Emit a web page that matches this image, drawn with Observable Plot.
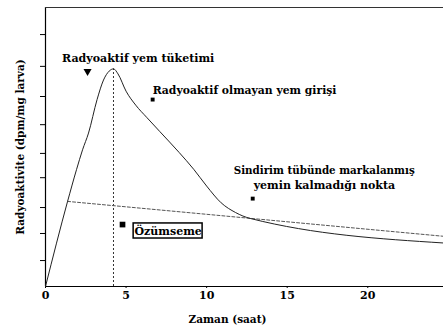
<!DOCTYPE html>
<html>
<head>
<meta charset="utf-8">
<script src="https://cdn.jsdelivr.net/npm/d3@7"></script>
<script src="https://cdn.jsdelivr.net/npm/@observablehq/plot@0.6"></script>
<style>
  html, body { margin: 0; padding: 0; background: #fff; }
</style>
</head>
<body>
<div id="chart"></div>
<script>
// Solid curve: total radioactivity (time in hours, arbitrary units)
const curveX = [0, 1.37, 1.93, 2.3, 2.67, 3.2, 3.6, 3.95, 4.22, 4.5, 5.0, 5.6, 6.3, 7.1, 8.3, 9.2, 10.0, 10.9, 11.8, 12.7, 24.7];
const curveY = [0, 3.05, 4.2, 4.9, 5.5, 6.7, 7.4, 7.72, 7.8, 7.62, 7.0, 6.5, 6.05, 5.55, 4.8, 4.2, 3.6, 3.0, 2.65, 2.44, 1.56];
// Dashed line: assimilation
const dashX = [1.37, 24.7];
const dashY = [3.05, 1.8];
// Peak time (vertical dotted line)
const peakX = 4.22;
const peakY = 7.8;
// Axis ticks
const xTicks = [0, 5, 10, 15, 20];
const yTicks = [0.93, 1.9, 2.83, 3.9, 4.77, 5.8, 6.81, 7.89, 9.03];
// Annotations
const labelTexts = ["Radyoaktif yem tüketimi", "Radyoaktif olmayan yem girişi", "Sindirim tübünde markalanmış", "yemin kalmadığı nokta"];
const labelX = [5.75, 6.65, 11.68, 12.92];
const labelY = [8.17, 7.03, 4.16, 3.62];
const labelAnchor = ["middle", "start", "start", "start"];
const labelSize = [11, 10.8, 10.3, 11];
const markerX = [6.65, 12.86];
const markerY = [6.70, 3.15];
const arrowX = [2.61];
const arrowY = [7.71];
const boxText = ["Özümseme"];
const boxX = [7.61];
const boxY = [1.99];
const boxX1 = [5.47], boxX2 = [9.75], boxY1 = [1.72], boxY2 = [2.26];
const boxMarkX = [4.78], boxMarkY = [2.22];

const curve = curveX.map((x, i) => ({x, y: curveY[i]}));
const dashed = dashX.map((x, i) => ({x, y: dashY[i]}));
const labels = labelTexts.map((t, i) => ({t, x: labelX[i], y: labelY[i], a: labelAnchor[i], s: labelSize[i]}));
const markers = markerX.map((x, i) => ({x, y: markerY[i]}));
const arrows = arrowX.map((x, i) => ({x, y: arrowY[i]}));
const boxes = boxText.map((t, i) => ({t, x: boxX[i], y: boxY[i], x1: boxX1[i], x2: boxX2[i], y1: boxY1[i], y2: boxY2[i]}));
const boxMarks = boxMarkX.map((x, i) => ({x, y: boxMarkY[i]}));

const font = "'DejaVu Serif', 'Liberation Serif', serif";

const chart = Plot.plot({
  width: 443,
  height: 329,
  marginLeft: 45,
  marginRight: 0,
  marginTop: 7,
  marginBottom: 43,
  style: {fontFamily: font, fontWeight: "bold", fontSize: "11px", background: "#fff", color: "#000"},
  x: {domain: [0, 24.7]},
  y: {domain: [0, 10]},
  marks: [
    Plot.axisX({ticks: xTicks, tickSize: 2, tickPadding: 3, label: null, fontSize: 11, fontWeight: "bold"}),
    Plot.axisY({ticks: yTicks, tickSize: 5, tickFormat: () => "", label: null}),
    Plot.ruleX([0], {stroke: "#000", strokeWidth: 1.2}),
    Plot.ruleY([0], {stroke: "#000", strokeWidth: 1.2}),
    Plot.ruleY([10], {stroke: "#333", strokeWidth: 1}),
    Plot.ruleX([peakX], {y1: 0, y2: peakY, stroke: "#333", strokeDasharray: "2,2", strokeWidth: 1}),
    Plot.line(dashed, {x: "x", y: "y", stroke: "#555", strokeDasharray: "3,2", strokeWidth: 1}),
    Plot.line(curve, {x: "x", y: "y", stroke: "#222", strokeWidth: 1, curve: "monotone-x"}),
    Plot.text(labels, {x: "x", y: "y", text: "t", textAnchor: "start", filter: d => d.a === "start", fontWeight: "bold", fontSize: "s"}),
    Plot.text(labels, {x: "x", y: "y", text: "t", textAnchor: "middle", filter: d => d.a === "middle", fontWeight: "bold", fontSize: "s"}),
    Plot.dot(markers, {x: "x", y: "y", symbol: "square", r: 2.2, fill: "#000", stroke: "none"}),
    Plot.dot(arrows, {x: "x", y: "y", symbol: "triangle", r: 3, fill: "#000", stroke: "none", rotate: 180}),
    Plot.dot(boxMarks, {x: "x", y: "y", symbol: "square", r: 3.2, fill: "#000", stroke: "none"}),
    Plot.rect(boxes, {x1: "x1", x2: "x2", y1: "y1", y2: "y2", fill: "#fff", stroke: "#000", strokeWidth: 1.5}),
    Plot.text(boxes, {x: "x", y: "y", text: "t", fontWeight: "bold", fontSize: 11}),
    Plot.text(["Zaman (saat)"], {frameAnchor: "bottom", textAnchor: "middle", dx: -17, dy: 36, fontWeight: "bold", fontSize: 10.5}),
    Plot.text(["Radyoaktivite (dpm/mg larva)"], {frameAnchor: "left", textAnchor: "middle", rotate: -90, dx: -25, fontWeight: "bold", fontSize: 10.5})
  ]
});
document.getElementById("chart").appendChild(chart);
</script>
</body>
</html>
